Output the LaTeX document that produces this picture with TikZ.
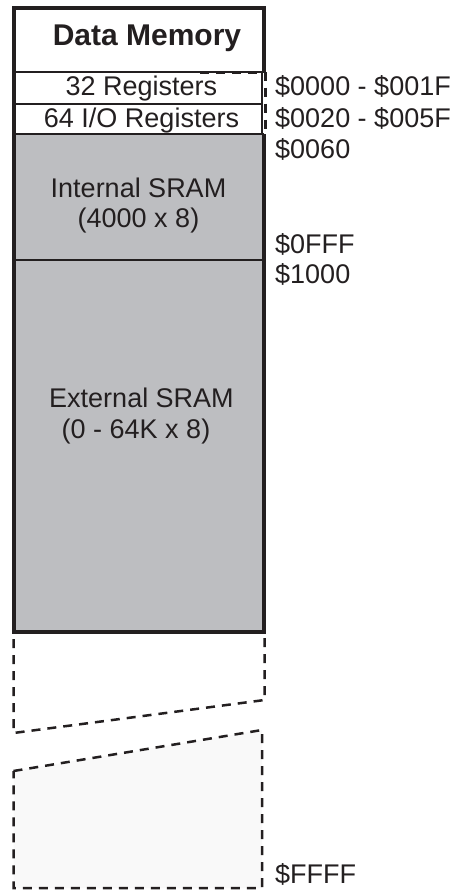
\documentclass[tikz,border=0pt]{standalone}
\usepackage{fontspec}
\setmainfont{Liberation Sans}
\definecolor{ink}{RGB}{35,31,32}
\definecolor{sram}{RGB}{189,190,193}
\definecolor{farfill}{RGB}{249,249,249}
\begin{document}
\begin{tikzpicture}[x=1pt,y=-1pt,
  thickline/.style={draw=ink,line width=4pt},
  thinline/.style={draw=ink,line width=2.2pt},
  dashline/.style={draw=ink,line width=2.5pt,dash pattern=on 9pt off 7pt},
  lbl/.style={font=\fontsize{27}{30}\selectfont,text=ink,inner sep=0pt},
  addr/.style={lbl,anchor=base west},
  cen/.style={lbl,anchor=base}]
\useasboundingbox (0,0) rectangle (464,891);
% fills
\fill[sram] (13.5,134) rectangle (263.5,631.5);
\fill[farfill] (13.5,771) -- (262,730) -- (262,888) -- (13.5,888) -- cycle;
% register rows
\draw[thinline] (13.5,72) -- (263.5,72);
\draw[thinline] (13.5,104) -- (262,104);
\draw[thinline] (13.5,134) -- (263.5,134);
\draw[thinline] (262,72) -- (262,134);
\draw[dashline] (200,73) -- (265.5,73) -- (265.5,134);
\draw[thinline] (13.5,260) -- (263.5,260);
% main outline
\draw[thickline] (263.5,72) -- (263.5,8.5) -- (13.5,8.5) -- (13.5,631.5) -- (263.5,631.5) -- (263.5,134);
% dashed continuation
\draw[dashline] (264.5,638) -- (264.5,700) -- (13.5,733) -- (13.5,636);
\draw[dashline] (13.5,771) -- (262,730) -- (262,888) -- (13.5,888) -- cycle;
% texts
\node[cen,font=\bfseries\fontsize{30}{33}\selectfont] (title) at (147,46) {Data Memory};
\node[cen] (r32) at (141.5,95) {32 Registers};
\node[cen] (r64) at (141.5,127.5) {64 I/O Registers};
\node[cen] (int1) at (138.5,197) {Internal SRAM};
\node[cen] (int2) at (138.5,227) {(4000 x 8)};
\node[cen] (ext1) at (141.5,407) {External SRAM};
\node[cen] (ext2) at (136,438) {(0 - 64K x 8)};
\node[addr] (a0) at (275,95) {\$0000 - \$001F};
\node[addr] (a1) at (275,127) {\$0020 - \$005F};
\node[addr] (a2) at (275,158) {\$0060};
\node[addr] (a3) at (275,253) {\$0FFF};
\node[addr] (a4) at (275,283) {\$1000};
\node[addr] (a5) at (275,883) {\$FFFF};
\end{tikzpicture}
\end{document}
